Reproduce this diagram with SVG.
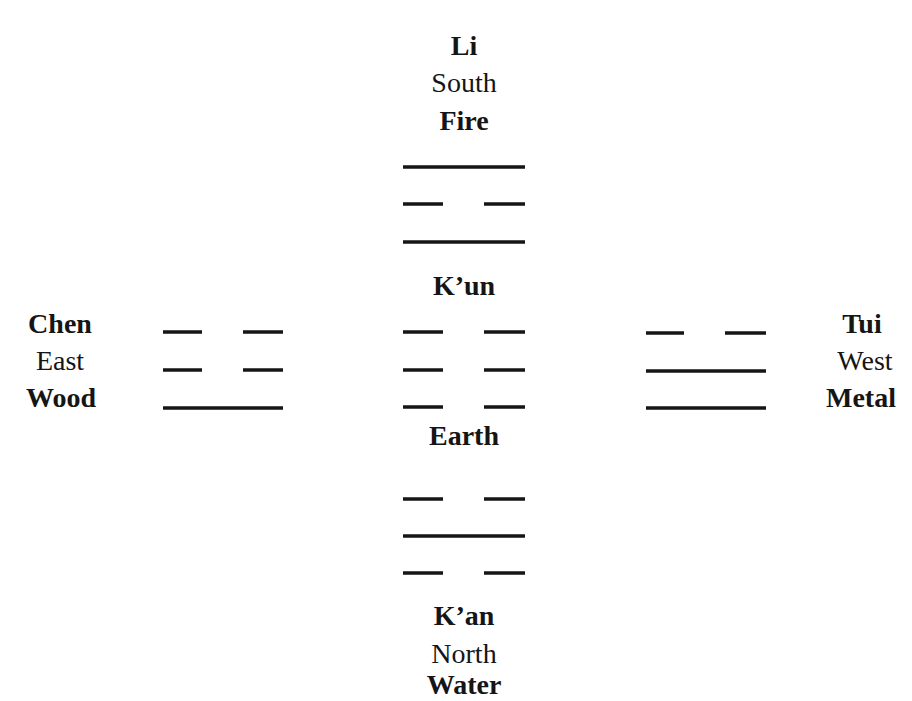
<svg xmlns="http://www.w3.org/2000/svg" width="912" height="701" viewBox="0 0 912 701">
<style>
text{font-family:"Liberation Serif","Times New Roman",serif;font-size:28px;fill:#151515;text-anchor:middle}
.b{font-weight:bold}
line{stroke:#151515;stroke-width:3.5}
</style>
<rect width="912" height="701" fill="#fff"/>
<g id="li">
<text class="b" x="464" y="55">Li</text>
<text x="464" y="92">South</text>
<text class="b" x="464" y="130">Fire</text>
<line x1="403" y1="167" x2="525" y2="167"/>
<line x1="403" y1="204" x2="443" y2="204"/><line x1="484" y1="204" x2="525" y2="204"/>
<line x1="403" y1="242" x2="525" y2="242"/>
</g>
<g id="kun">
<text class="b" x="464" y="295">K’un</text>
<line x1="403" y1="332" x2="443" y2="332"/><line x1="484" y1="332" x2="525" y2="332"/>
<line x1="403" y1="370" x2="443" y2="370"/><line x1="484" y1="370" x2="525" y2="370"/>
<line x1="403" y1="407" x2="443" y2="407"/><line x1="484" y1="407" x2="525" y2="407"/>
<text class="b" x="464" y="445">Earth</text>
</g>
<g id="kan">
<line x1="403" y1="499" x2="443" y2="499"/><line x1="484" y1="499" x2="525" y2="499"/>
<line x1="403" y1="536" x2="525" y2="536"/>
<line x1="403" y1="573" x2="443" y2="573"/><line x1="484" y1="573" x2="525" y2="573"/>
<text class="b" x="464" y="625">K’an</text>
<text x="464" y="663">North</text>
<text class="b" x="464" y="694">Water</text>
</g>
<g id="chen">
<text class="b" x="60" y="333">Chen</text>
<text x="60" y="370">East</text>
<text class="b" x="61" y="407">Wood</text>
<line x1="163" y1="332" x2="202" y2="332"/><line x1="243" y1="332" x2="283" y2="332"/>
<line x1="163" y1="370" x2="202" y2="370"/><line x1="243" y1="370" x2="283" y2="370"/>
<line x1="163" y1="408" x2="283" y2="408"/>
</g>
<g id="tui">
<line x1="646" y1="333" x2="684" y2="333"/><line x1="725" y1="333" x2="766" y2="333"/>
<line x1="646" y1="371" x2="766" y2="371"/>
<line x1="646" y1="408" x2="766" y2="408"/>
<text class="b" x="862" y="333">Tui</text>
<text x="865" y="370">West</text>
<text class="b" x="861" y="407">Metal</text>
</g>
<g id="connectors"/>
</svg>
